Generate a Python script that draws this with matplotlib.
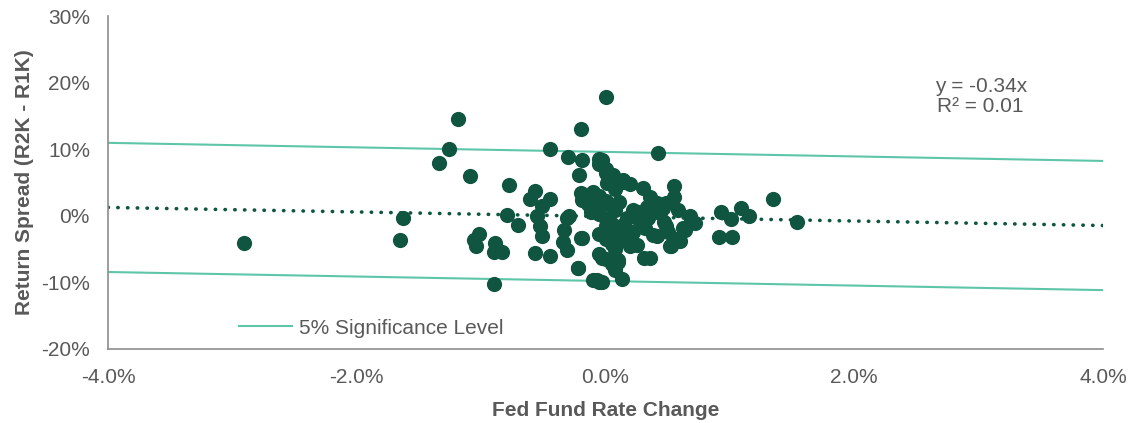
"""
Fed fund rate change vs. small/large cap return spread — scatter with trend line
"""

import matplotlib.pyplot as plt
from matplotlib.lines import Line2D
from matplotlib.ticker import FuncFormatter
import numpy as np

plt.rcParams["font.family"] = ["Liberation Sans", "DejaVu Sans"]

# ─── Data (percent units) ───────────────────────────────────────────────

rate_change = [
    -2.91, -1.63, -1.65, -1.34, -1.26, -1.19, -1.09, -1.02, -1.06, -1.04,
    -0.89, -0.90, -0.83, -0.90, -0.78, -0.79, -0.70, -0.57, -0.61, -0.45,
    -0.51, -0.55, -0.53, -0.51, -0.57, -0.45, -0.45, -0.30, -0.20, -0.19,
    -0.21, -0.20, -0.31, -0.33, -0.34, -0.31, -0.20, -0.22, -0.10, -0.05,
    0.00, 0.42, 1.35, 1.54, 0.93, 1.01, 1.09, 1.15, 0.91, 1.02,
    0.13, 0.31, 0.55, 0.55, 0.30, 0.20, 0.14, 0.06, -0.03, 0.41,
    0.49, 0.58, 0.68, 0.72, 0.41, 0.53, 0.60, 0.49, 0.34, 0.22,
    0.22, 0.25, 0.12, 0.10, -0.03, 0.69, 0.52, 0.36, -0.05, 0.00,
    0.05, 0.14, -0.19, -0.10, 0.01, 0.40, 0.29, 0.17, 0.20, -0.29,
    -0.19, -0.22, -0.07, 0.10, -0.03, 0.24, 0.46, 0.50, 0.62, 0.36,
    -0.05, 0.00, 0.05, 0.08, -0.05, 0.00, 0.05, 0.08, -0.05, 0.00,
    0.05, 0.08, -0.05, 0.00, 0.05, 0.08, -0.05, 0.00, 0.05, 0.08,
    -0.05, 0.00, 0.05, 0.11, 0.15, 0.18, 0.26, 0.32, 0.44, 0.38,
    -0.12, -0.14, 0.47, 0.56, 0.64, 0.33,
]
return_spread = [
    -4.1, -0.4, -3.6, 8.0, 10.0, 14.6, 6.0, -2.7, -3.6, -4.6,
    -4.1, -5.5, -5.5, -10.3, 4.6, 0.1, -1.4, 3.7, 2.6, 2.6,
    1.4, -0.1, -1.6, -3.1, -5.6, -6.0, 10.1, 8.9, 13.0, 8.4,
    6.1, 3.4, -0.4, -2.1, -3.9, -5.1, -3.4, -7.8, -9.6, -9.9,
    17.9, 9.5, 2.5, -1.0, 0.6, -0.5, 1.1, 0.0, -3.2, -3.2,
    -9.5, -6.4, 4.5, 2.8, 4.2, 4.8, 5.4, 6.1, 8.4, 1.9,
    1.9, 0.9, -0.1, -1.1, -3.1, -4.6, -3.8, -1.6, -0.4, 0.9,
    -2.4, -4.4, -3.6, -6.6, -9.9, -0.6, -4.6, -6.4, 8.6, 7.1,
    5.9, 5.1, 2.4, 3.6, 4.9, 1.4, -1.1, -0.4, -4.6, -0.1,
    -3.4, -7.9, -9.6, -6.9, -6.4, -0.2, 1.2, -2.5, -1.8, 2.8,
    7.8, 6.5, 5.6, 4.0, 3.0, 2.3, 1.5, 0.8, 0.2, -0.5,
    -1.2, -2.0, -2.8, -3.5, -4.2, -5.0, -5.8, -6.5, -7.3, -8.2,
    1.0, -1.5, -2.6, 2.0, -1.3, -2.8, 0.5, -1.9, 0.4, -2.9,
    0.6, 1.8, -0.9, -3.5, -2.1, 1.3,
]

trend_slope = -0.34
trend_intercept = -0.1
band_halfwidth = 9.7

x_ticks = [-4, -2, 0, 2, 4]
y_ticks = [-20, -10, 0, 10, 20, 30]

# ─── Styling ────────────────────────────────────────────────────────────

DOT = "#10553F"
MINT = "#5EC5A8"
GRAY = "#595959"
FS = 15

fig = plt.figure(figsize=(11.29, 4.23), dpi=100)
ax = fig.add_axes([0.0957, 0.175, 0.8813, 0.787])

xs = np.array([x_ticks[0], x_ticks[-1]], dtype=float)
trend = trend_slope * xs + trend_intercept

ax.plot(xs, trend + band_halfwidth, color=MINT, lw=1.5, zorder=1)
ax.plot(xs, trend - band_halfwidth, color=MINT, lw=1.5, zorder=1)
ax.plot(xs, trend, color=DOT, lw=2.6, ls=(0, (0.1, 2.6)),
        dash_capstyle="round", zorder=2)
ax.scatter(rate_change, return_spread, s=120, color=DOT, linewidths=0, zorder=3)

ax.set_xlim(x_ticks[0], x_ticks[-1])
ax.set_ylim(y_ticks[0], y_ticks[-1])
ax.set_xticks(x_ticks)
ax.set_yticks(y_ticks)
ax.xaxis.set_major_formatter(FuncFormatter(lambda v, _: f"{v:.1f}%"))
ax.yaxis.set_major_formatter(FuncFormatter(lambda v, _: f"{v:.0f}%"))
ax.tick_params(length=0, labelsize=FS, labelcolor=GRAY)
ax.tick_params(axis="x", pad=14)
ax.tick_params(axis="y", pad=13)

for side in ("top", "right"):
    ax.spines[side].set_visible(False)
for side in ("left", "bottom"):
    ax.spines[side].set_color("#8C8C8C")
    ax.spines[side].set_linewidth(1.2)

ax.set_xlabel("Fed Fund Rate Change", fontsize=FS, fontweight="bold",
              color=GRAY, labelpad=10)
ax.set_ylabel("Return Spread (R2K - R1K)", fontsize=FS, fontweight="bold",
              color=GRAY, labelpad=5)

ax.text(0.877, 0.758, f"y = {trend_slope:.2f}x\nR\u00b2 = 0.01", transform=ax.transAxes,
        ha="center", va="center", fontsize=FS, color=GRAY, linespacing=1.1)

handle = Line2D([], [], color=MINT, lw=1.5)
ax.legend(handles=[handle], labels=["5% Significance Level"], loc="lower left",
          bbox_to_anchor=(0.113, -0.022), frameon=False, fontsize=FS,
          handlelength=2.55, handletextpad=0.3, labelcolor=GRAY)

fig.savefig("out.png", dpi=100)
